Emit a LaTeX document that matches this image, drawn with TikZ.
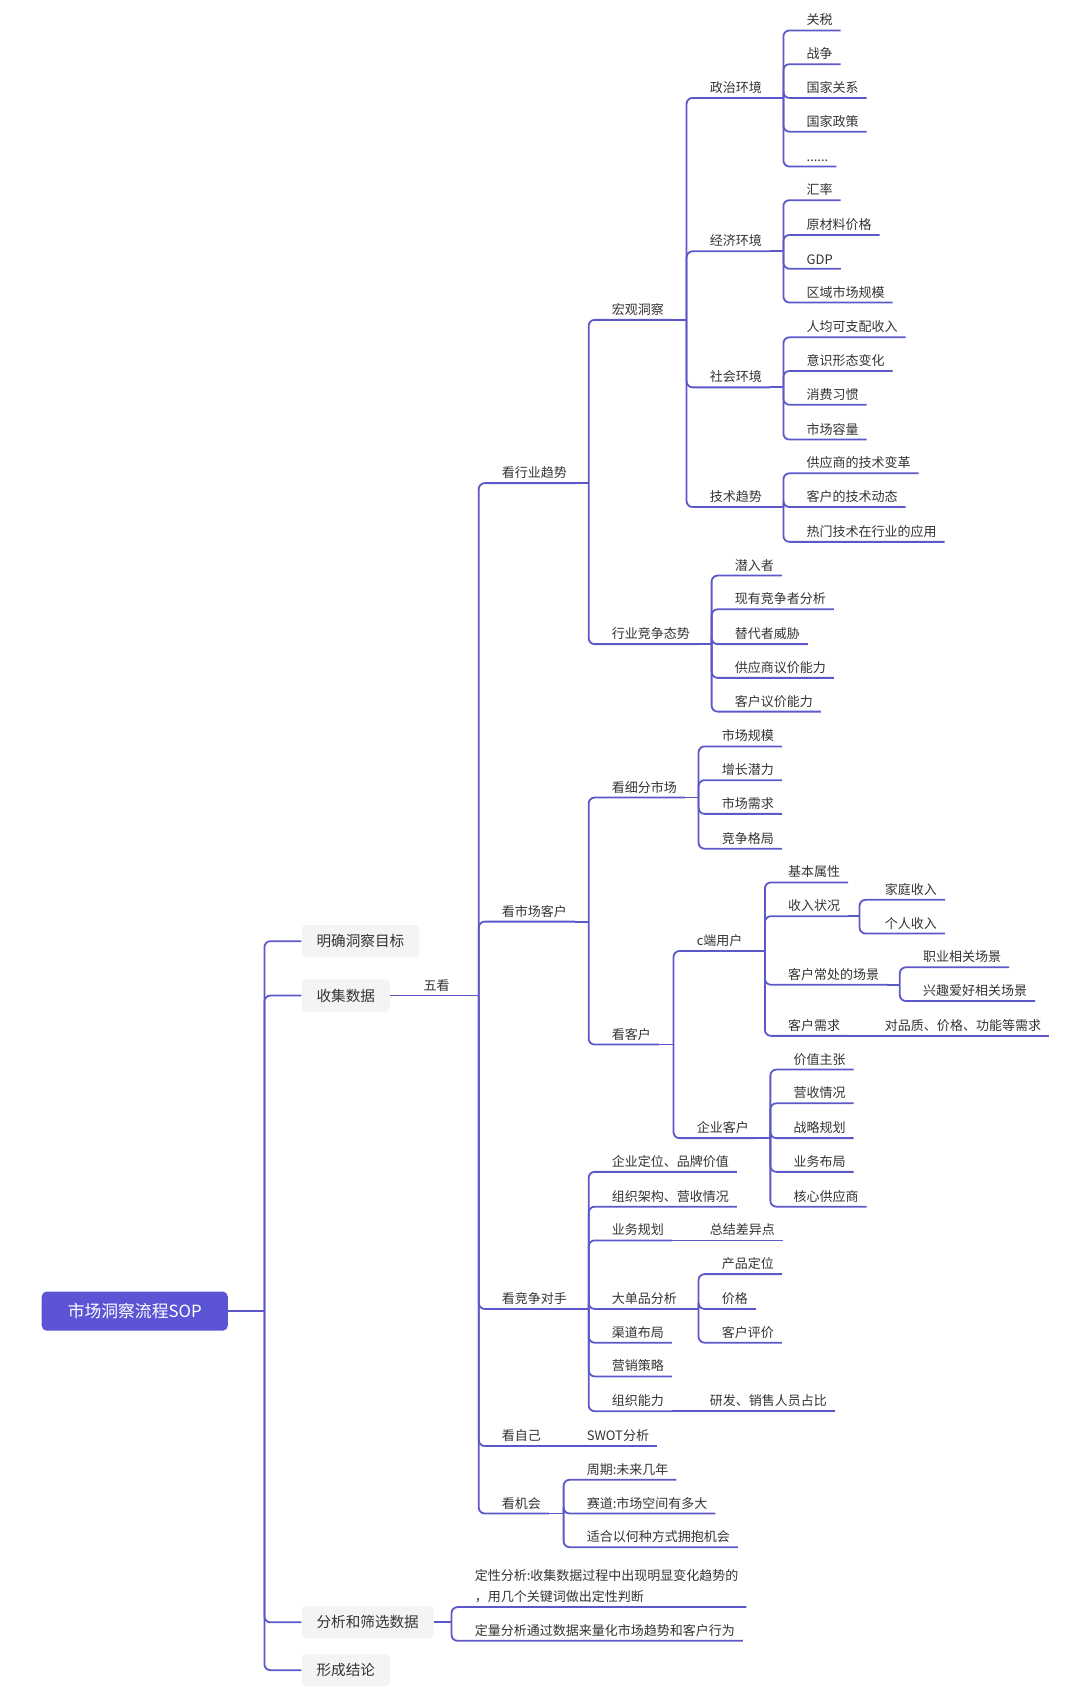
\documentclass[tikz,border=0pt]{standalone}
\usepackage{fontspec}
\setmainfont{Noto Sans CJK SC}
\definecolor{linkc}{HTML}{5D58C9}
\definecolor{textc}{HTML}{333333}
\definecolor{boxc}{HTML}{F4F4F4}
\definecolor{rootc}{HTML}{5B55D6}
\tikzset{
  link/.style={draw=linkc, line width=0.9pt, rounded corners=3pt},
  item/.style={anchor=south west, inner xsep=3.8pt, inner ysep=2pt, text=textc,
    font=\fontsize{6.5pt}{8pt}\selectfont},
  topic/.style={anchor=west, fill=boxc, rounded corners=2pt, text=textc,
    inner xsep=7.4pt, minimum height=16.3pt, font=\fontsize{7.3pt}{9pt}\selectfont},
  root/.style={anchor=west, fill=rootc, rounded corners=2.5pt, text=white,
    minimum width=93pt, minimum height=19.6pt, font=\fontsize{8.4pt}{10pt}\selectfont}
}
\begin{document}
\begin{tikzpicture}[x=0.544pt,y=-0.544pt]
  \useasboundingbox (0,0) rectangle (993,1567);
  % root and first level
  \node[root] (r) at (38,1205) {市场洞察流程SOP};
  \coordinate (rt) at (243,1205);
  \draw[link] (r.east) -- (rt);
  \node[topic] (b1) at (277,865) {明确洞察目标};
  \node[topic] (b2) at (277,915) {收集数据};
  \node[topic] (b3) at (277,1491) {分析和筛选数据};
  \node[topic] (b4) at (277,1535) {形成结论};
  \draw[link] (rt) |- (b1.west);
  \draw[link] (rt) |- (b2.west);
  \draw[link] (rt) |- (b3.west);
  \draw[link] (rt) |- (b4.west);

  % five views
  \node[item] (wk) at (382,915) {五看};
  \coordinate (wkt) at (440,915);
  \draw[link] (b2.east) -- (wkt);
  \node[item] (hy) at (454,444) {看行业趋势};
  \node[item] (sc) at (454,847) {看市场客户};
  \node[item] (jz) at (454,1203) {看竞争对手};
  \node[item] (zj) at (454,1329) {看自己};
  \node[item] (jh) at (454,1391) {看机会};
  \draw[link] (wkt) |- (hy.south east);
  \draw[link] (wkt) |- (sc.south east);
  \draw[link] (wkt) |- (jz.south east);
  \draw[link] (wkt) |- (zj.south east);
  \draw[link] (wkt) |- (jh.south east);

  % industry trend
  \coordinate (hyt) at (541,444);
  \draw[link] (hy.south east) -- (hyt);
  \node[item] (hg) at (555,294) {宏观洞察};
  \node[item] (ts) at (555,592) {行业竞争态势};
  \draw[link] (hyt) |- (hg.south east);
  \draw[link] (hyt) |- (ts.south east);
  \coordinate (hgt) at (631,294);
  \draw[link] (hg.south east) -- (hgt);
  \node[item] (zz) at (645,90) {政治环境};
  \node[item] (jj) at (645,231) {经济环境};
  \node[item] (sh) at (645,356) {社会环境};
  \node[item] (js) at (645,466) {技术趋势};
  \draw[link] (hgt) |- (zz.south east);
  \draw[link] (hgt) |- (jj.south east);
  \draw[link] (hgt) |- (sh.south east);
  \draw[link] (hgt) |- (js.south east);

  \coordinate (zzt) at (720,90);
  \draw[link] (zz.south east) -- (zzt);
  \node[item] (zz1) at (734,28) {关税};
  \node[item] (zz2) at (734,59) {战争};
  \node[item] (zz3) at (734,90) {国家关系};
  \node[item] (zz4) at (734,121) {国家政策};
  \node[item] (zz5) at (734,153) {......};
  \draw[link] (zzt) |- (zz1.south east);
  \draw[link] (zzt) |- (zz2.south east);
  \draw[link] (zzt) |- (zz3.south east);
  \draw[link] (zzt) |- (zz4.south east);
  \draw[link] (zzt) |- (zz5.south east);

  \coordinate (jjt) at (720,231);
  \draw[link] (jj.south east) -- (jjt);
  \node[item] (jj1) at (734,184) {汇率};
  \node[item] (jj2) at (734,216) {原材料价格};
  \node[item] (jj3) at (734,247) {GDP};
  \node[item] (jj4) at (734,278) {区域市场规模};
  \draw[link] (jjt) |- (jj1.south east);
  \draw[link] (jjt) |- (jj2.south east);
  \draw[link] (jjt) |- (jj3.south east);
  \draw[link] (jjt) |- (jj4.south east);

  \coordinate (sht) at (720,356);
  \draw[link] (sh.south east) -- (sht);
  \node[item] (sh1) at (734,310) {人均可支配收入};
  \node[item] (sh2) at (734,341) {意识形态变化};
  \node[item] (sh3) at (734,372) {消费习惯};
  \node[item] (sh4) at (734,404) {市场容量};
  \draw[link] (sht) |- (sh1.south east);
  \draw[link] (sht) |- (sh2.south east);
  \draw[link] (sht) |- (sh3.south east);
  \draw[link] (sht) |- (sh4.south east);

  \coordinate (jst) at (720,466);
  \draw[link] (js.south east) -- (jst);
  \node[item] (js1) at (734,435) {供应商的技术变革};
  \node[item] (js2) at (734,466) {客户的技术动态};
  \node[item] (js3) at (734,498) {热门技术在行业的应用};
  \draw[link] (jst) |- (js1.south east);
  \draw[link] (jst) |- (js2.south east);
  \draw[link] (jst) |- (js3.south east);

  \coordinate (tst) at (654,592);
  \draw[link] (ts.south east) -- (tst);
  \node[item] (ts1) at (668,529) {潜入者};
  \node[item] (ts2) at (668,560) {现有竞争者分析};
  \node[item] (ts3) at (668,592) {替代者威胁};
  \node[item] (ts4) at (668,623) {供应商议价能力};
  \node[item] (ts5) at (668,654) {客户议价能力};
  \draw[link] (tst) |- (ts1.south east);
  \draw[link] (tst) |- (ts2.south east);
  \draw[link] (tst) |- (ts3.south east);
  \draw[link] (tst) |- (ts4.south east);
  \draw[link] (tst) |- (ts5.south east);

  % market and customers
  \coordinate (sct) at (541,847);
  \draw[link] (sc.south east) -- (sct);
  \node[item] (xf) at (555,733) {看细分市场};
  \node[item] (kh) at (555,960) {看客户};
  \draw[link] (sct) |- (xf.south east);
  \draw[link] (sct) |- (kh.south east);
  \coordinate (xft) at (642,733);
  \draw[link] (xf.south east) -- (xft);
  \node[item] (xf1) at (656,686) {市场规模};
  \node[item] (xf2) at (656,717) {增长潜力};
  \node[item] (xf3) at (656,748) {市场需求};
  \node[item] (xf4) at (656,780) {竞争格局};
  \draw[link] (xft) |- (xf1.south east);
  \draw[link] (xft) |- (xf2.south east);
  \draw[link] (xft) |- (xf3.south east);
  \draw[link] (xft) |- (xf4.south east);

  \coordinate (kht) at (619,960);
  \draw[link] (kh.south east) -- (kht);
  \node[item] (cd) at (633,874) {c端用户};
  \node[item] (qy) at (633,1046) {企业客户};
  \draw[link] (kht) |- (cd.south east);
  \draw[link] (kht) |- (qy.south east);

  \coordinate (cdt) at (703,874);
  \draw[link] (cd.south east) -- (cdt);
  \node[item] (jb) at (717,811) {基本属性};
  \node[item] (sr) at (717,842) {收入状况};
  \node[item] (cj) at (717,905) {客户常处的场景};
  \node[item] (xq) at (717,952) {客户需求};
  \draw[link] (cdt) |- (jb.south east);
  \draw[link] (cdt) |- (sr.south east);
  \draw[link] (cdt) |- (cj.south east);
  \draw[link] (cdt) |- (xq.south east);
  \coordinate (srt) at (790,842);
  \draw[link] (sr.south east) -- (srt);
  \node[item] (sr1) at (806,827) {家庭收入};
  \node[item] (sr2) at (806,858) {个人收入};
  \draw[link] (srt) |- (sr1.south east);
  \draw[link] (srt) |- (sr2.south east);
  \coordinate (cjt) at (827,905);
  \draw[link] (cj.south east) -- (cjt);
  \node[item] (cj1) at (841,889) {职业相关场景};
  \node[item] (cj2) at (841,920) {兴趣爱好相关场景};
  \draw[link] (cjt) |- (cj1.south east);
  \draw[link] (cjt) |- (cj2.south east);
  \coordinate (xqt) at (790,952);
  \draw[link] (xq.south east) -- (xqt);
  \node[item] (xq1) at (806,952) {对品质、价格、功能等需求};
  \draw[link] (xqt) -- (xq1.south east);

  \coordinate (qyt) at (708,1046);
  \draw[link] (qy.south east) -- (qyt);
  \node[item] (qy1) at (722,983) {价值主张};
  \node[item] (qy2) at (722,1014) {营收情况};
  \node[item] (qy3) at (722,1046) {战略规划};
  \node[item] (qy4) at (722,1077) {业务布局};
  \node[item] (qy5) at (722,1109) {核心供应商};
  \draw[link] (qyt) |- (qy1.south east);
  \draw[link] (qyt) |- (qy2.south east);
  \draw[link] (qyt) |- (qy3.south east);
  \draw[link] (qyt) |- (qy4.south east);
  \draw[link] (qyt) |- (qy5.south east);

  % competitors
  \coordinate (jzt) at (541,1203);
  \draw[link] (jz.south east) -- (jzt);
  \node[item] (jz1) at (555,1077) {企业定位、品牌价值};
  \node[item] (jz2) at (555,1109) {组织架构、营收情况};
  \node[item] (yw) at (555,1140) {业务规划};
  \node[item] (dp) at (555,1203) {大单品分析};
  \node[item] (jz3) at (555,1234) {渠道布局};
  \node[item] (jz4) at (555,1265) {营销策略};
  \node[item] (zn) at (555,1297) {组织能力};
  \draw[link] (jzt) |- (jz1.south east);
  \draw[link] (jzt) |- (jz2.south east);
  \draw[link] (jzt) |- (yw.south east);
  \draw[link] (jzt) |- (dp.south east);
  \draw[link] (jzt) |- (jz3.south east);
  \draw[link] (jzt) |- (jz4.south east);
  \draw[link] (jzt) |- (zn.south east);
  \coordinate (ywt) at (630,1140);
  \draw[link] (yw.south east) -- (ywt);
  \node[item] (yw1) at (645,1140) {总结差异点};
  \draw[link] (ywt) -- (yw1.south east);
  \coordinate (dpt) at (642,1203);
  \draw[link] (dp.south east) -- (dpt);
  \node[item] (dp1) at (656,1171) {产品定位};
  \node[item] (dp2) at (656,1203) {价格};
  \node[item] (dp3) at (656,1234) {客户评价};
  \draw[link] (dpt) |- (dp1.south east);
  \draw[link] (dpt) |- (dp2.south east);
  \draw[link] (dpt) |- (dp3.south east);
  \coordinate (znt) at (630,1297);
  \draw[link] (zn.south east) -- (znt);
  \node[item] (zn1) at (645,1297) {研发、销售人员占比};
  \draw[link] (znt) -- (zn1.south east);

  % self and chances
  \coordinate (zjt) at (518,1329);
  \draw[link] (zj.south east) -- (zjt);
  \node[item] (zj1) at (532,1329) {SWOT分析};
  \draw[link] (zjt) -- (zj1.south east);
  \coordinate (jht) at (518,1391);
  \draw[link] (jh.south east) -- (jht);
  \node[item] (jh1) at (532,1360) {周期:未来几年};
  \node[item] (jh2) at (532,1391) {赛道:市场空间有多大};
  \node[item] (jh3) at (532,1422) {适合以何种方式拥抱机会};
  \draw[link] (jht) |- (jh1.south east);
  \draw[link] (jht) |- (jh2.south east);
  \draw[link] (jht) |- (jh3.south east);

  % analysis
  \coordinate (fxt) at (415,1491);
  \draw[link] (b3.east) -- (fxt);
  \node[item, align=left, font=\fontsize{6.5pt}{10.3pt}\selectfont] (fx1) at (429,1477)
    {定性分析:收集数据过程中出现明显变化趋势的\\，用几个关键词做出定性判断};
  \node[item] (fx2) at (429,1508) {定量分析通过数据来量化市场趋势和客户行为};
  \draw[link] (fxt) |- (fx1.south east);
  \draw[link] (fxt) |- (fx2.south east);
\end{tikzpicture}
\end{document}
